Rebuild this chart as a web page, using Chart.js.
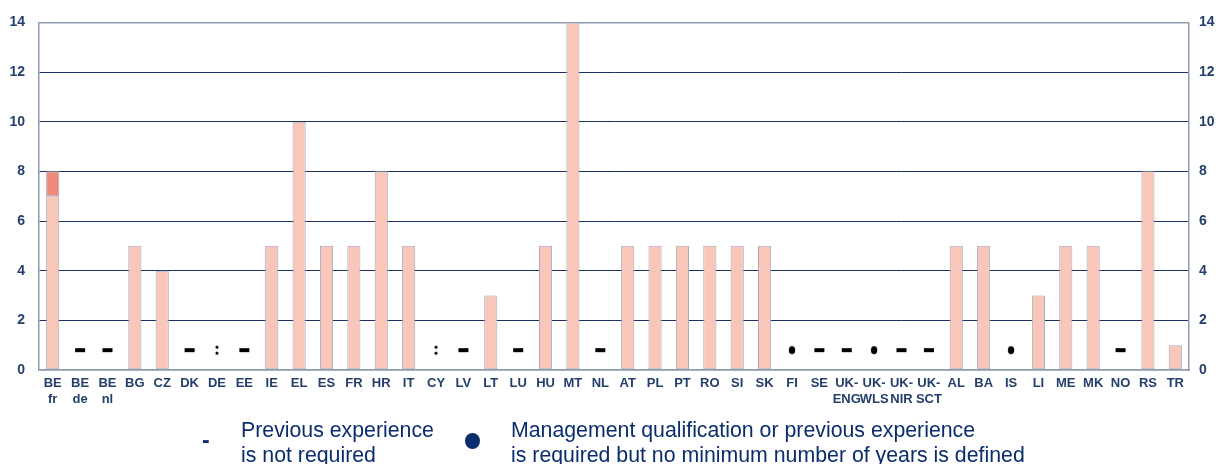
<!DOCTYPE html>
<html>
<head>
<meta charset="utf-8">
<script src="https://cdn.jsdelivr.net/npm/chart.js@4"></script>
<style>
  body { margin: 0; background: #fff; }
  #wrap { position: relative; width: 1219px; height: 464px; }
  #myChart { position: absolute; left: 0; top: 0; }
  .leg { position: absolute; font-family: 'Liberation Sans', Arial, sans-serif; font-size: 21.3px; color: #0b2d6e; line-height: 25px; white-space: nowrap; }
</style>
</head>
<body>
<div id="wrap">
  <canvas id="myChart" width="1219" height="464"></canvas>
  <div class="leg" style="left:202px; top:428px; font-weight:bold; font-size:23px;">-</div>
  <div class="leg" style="left:241px; top:418px;">Previous experience<br>is not required</div>
  <div class="leg" style="left:465px; top:433px; width:15px; height:16px; border-radius:50%; background:#0b2d6e;"></div>
  <div class="leg" style="left:511px; top:418px;">Management qualification or previous experience<br>is required but no minimum number of years is defined</div>
</div>
<script>
const countries = [['BE','fr'],['BE','de'],['BE','nl'],'BG','CZ','DK','DE','EE','IE','EL','ES','FR','HR','IT','CY','LV','LT','LU','HU','MT','NL','AT','PL','PT','RO','SI','SK','FI','SE',['UK-','ENG'],['UK-','WLS'],['UK-','NIR'],['UK-','SCT'],'AL','BA','IS','LI','ME','MK','NO','RS','TR']
const years = [7,null,null,5,4,null,null,null,5,10,5,5,8,5,null,null,3,null,5,14,null,5,5,5,5,5,5,null,null,null,null,null,null,5,5,null,3,5,5,null,8,1]
const yearsExtra = [1,null,null,null,null,null,null,null,null,null,null,null,null,null,null,null,null,null,null,null,null,null,null,null,null,null,null,null,null,null,null,null,null,null,null,null,null,null,null,null,null,null]
// '-' not required, ':' not available, 'o' required without minimum
const marks = ['','-','-','','','-',':','-','','','','','','',':','-','','-','','','-','','','','','','','o','-','-','o','-','-','','','o','','','','-','','']
const yTicks = [0,2,4,6,8,10,12,14]

function markImg(kind) {
  var c = document.createElement('canvas')
  c.width = 14; c.height = 14
  var g = c.getContext('2d')
  g.fillStyle = '#000'
  if (kind == '-') {
    g.fillRect(2, 5, 10, 4)
  } else if (kind == ':') {
    g.beginPath(); g.arc(7, 4, 1.6, 0, Math.PI * 2); g.fill()
    g.beginPath(); g.arc(7, 10, 1.6, 0, Math.PI * 2); g.fill()
  } else {
    g.beginPath(); g.ellipse(7, 7, 3.2, 4, 0, 0, Math.PI * 2); g.fill()
  }
  return c
}
const imgs = { '-': markImg('-'), ':': markImg(':'), 'o': markImg('o') }

const navy = '#243f6b'
const frame = '#8e9ab0'
const tickFont = { family: "'Liberation Sans Narrow', 'Arial Narrow', 'Liberation Sans', sans-serif", size: 14, weight: 'bold' }

var ctx = document.getElementById('myChart').getContext('2d');
var chart = new Chart(ctx, {
  data: {
    labels: countries,
    datasets: [{
      type: 'bar',
      data: years,
      backgroundColor: '#f9c6ba',
      borderColor: '#a9a9b9',
      borderWidth: 1,
      borderSkipped: false,
      stack: 'y',
      barPercentage: 0.48,
      categoryPercentage: 1,
      order: 1
    }, {
      type: 'bar',
      data: yearsExtra,
      backgroundColor: '#f08a7a',
      borderColor: '#a9a9b9',
      borderWidth: 1,
      borderSkipped: false,
      stack: 'y',
      barPercentage: 0.48,
      categoryPercentage: 1,
      order: 2
    }, {
      type: 'line',
      data: marks.map(m => m ? 0.8 : null),
      showLine: false,
      stack: 'm',
      pointStyle: marks.map(m => m ? imgs[m] : false),
      order: 0
    }]
  },
  options: {
    responsive: false,
    animation: false,
    events: [],
    layout: { padding: { top: 17, left: 0, right: 0, bottom: 0 } },
    plugins: { legend: { display: false }, tooltip: { enabled: false } },
    scales: {
      x: {
        stacked: true,
        grid: { display: false, drawTicks: false },
        border: { color: frame, width: 1.5 },
        ticks: { color: navy, font: { family: tickFont.family, size: 13, weight: 'bold' }, maxRotation: 0, autoSkip: false, padding: 6 },
        afterFit: s => { s.height = 94 }
      },
      y: {
        position: 'left',
        stacked: true,
        min: 0, max: 14,
        afterBuildTicks: s => { s.ticks = yTicks.map(v => ({ value: v })) },
        grid: { color: c => (c.tick.value == 0 || c.tick.value == 14) ? frame : '#1c3163', lineWidth: c => (c.tick.value == 0 || c.tick.value == 14) ? 1.5 : 1, drawTicks: false },
        border: { color: frame, width: 1.5 },
        ticks: { color: navy, font: tickFont, padding: 14 },
        afterFit: s => { s.width = 39 }
      },
      y2: {
        position: 'right',
        min: 0, max: 14,
        afterBuildTicks: s => { s.ticks = yTicks.map(v => ({ value: v })) },
        grid: { display: false, drawTicks: false },
        border: { color: frame, width: 1.5 },
        ticks: { color: navy, font: tickFont, padding: 10 },
        afterFit: s => { s.width = 30 }
      }
    }
  }
});
</script>
</body>
</html>
